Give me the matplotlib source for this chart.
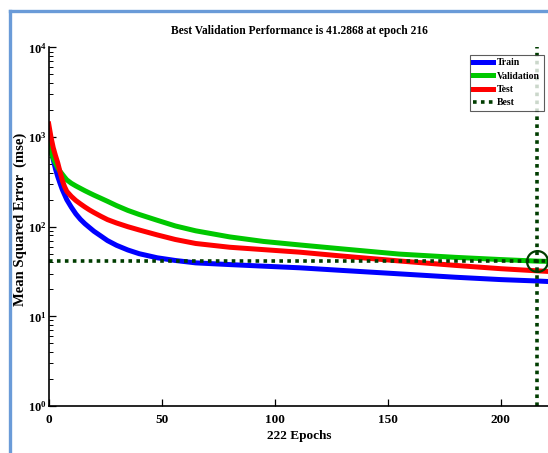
import matplotlib
matplotlib.use("Agg")
import matplotlib.pyplot as plt
from matplotlib.lines import Line2D
from matplotlib.ticker import LogLocator, LogFormatterMathtext, NullFormatter

# values
epochs = [0, 1, 2, 3, 4, 5, 6, 7, 8, 10, 12, 14, 16, 18, 20, 23, 26, 30, 35, 40, 48, 56, 65,
          80, 95, 111, 130, 155, 180, 200, 216, 222]
train_mse = [1000, 720, 560, 440, 362, 305, 260, 228, 200, 165, 139, 121, 108, 98, 89, 79, 70, 62, 55, 50, 45, 42, 39.5,
             37.8, 36.3, 34.8, 32.5, 29.8, 27.3, 25.7, 24.8, 24.4]
val_mse = [850, 680, 580, 510, 453, 415, 385, 357, 333, 305, 285, 268, 252, 238, 225, 208, 192, 172, 152, 137, 118, 102, 90,
           77, 68.5, 62.6, 56.5, 49.5, 45.5, 43, 41.29, 41]
test_mse = [1400, 1000, 760, 620, 515, 410, 330, 280, 248, 218, 196, 180, 166, 154, 144, 131, 120, 110, 100, 92, 81, 72, 65,
            59, 55.5, 52, 47, 41.5, 37, 34, 32.2, 31.6]
best_epoch = 216
best_perf = 41.2868
n_epochs = 222

plt.rcParams['font.family'] = ['Liberation Serif', 'DejaVu Serif']
plt.rcParams['font.weight'] = 'bold'
plt.rcParams['mathtext.fontset'] = 'custom'
plt.rcParams['mathtext.rm'] = 'Liberation Serif:bold'
plt.rcParams['mathtext.bf'] = 'Liberation Serif:bold'
plt.rcParams['mathtext.it'] = 'Liberation Serif:bold'

fig = plt.figure(figsize=(5.48, 4.53), dpi=100)
ax = fig.add_axes([0.0889, 0.1038, 0.9157, 0.7915])

ax.plot(epochs, train_mse, color='#0000ff', lw=3.6, label='Train', solid_joinstyle='round')
ax.plot(epochs, val_mse, color='#00c800', lw=3.6, label='Validation', solid_joinstyle='round')
ax.plot(epochs, test_mse, color='#ff0000', lw=3.6, label='Test', solid_joinstyle='round')
ax.axhline(best_perf, color='#003d00', lw=2.6, ls=(0, (1, 1.2)), label='Best')
ax.axvline(best_epoch, color='#003d00', lw=2.6, ls=(0, (1, 1.2)))
ax.plot([best_epoch], [best_perf], 'o', mfc='none', mec='#003d00', ms=15, mew=1.6)

ax.set_yscale('log')
ax.set_ylim(1, 1e4)
ax.set_xlim(0, n_epochs)
ax.set_xticks([0, 50, 100, 150, 200])
ax.yaxis.set_major_locator(LogLocator(base=10, numticks=10))
ax.yaxis.set_major_formatter(LogFormatterMathtext())
ax.yaxis.set_minor_locator(LogLocator(base=10, subs=range(2, 10), numticks=20))
ax.yaxis.set_minor_formatter(NullFormatter())
ax.tick_params(axis='both', which='both', direction='in')
ax.tick_params(axis='x', labelsize=9.5, pad=6)
ax.tick_params(axis='y', labelsize=9, pad=1.5)
ax.tick_params(axis='both', which='major', length=5, width=0.9)
ax.tick_params(axis='y', which='minor', length=3, width=0.7)
ax.spines['top'].set_visible(False)
ax.spines['right'].set_visible(False)
ax.spines['left'].set_linewidth(1.2)
ax.spines['bottom'].set_linewidth(1.2)

ax.set_title('Best Validation Performance is 41.2868 at epoch 216', fontsize=8.3, fontweight='bold', pad=10)
ax.set_xlabel('222 Epochs', fontsize=9.5, fontweight='bold', labelpad=3)
ax.set_ylabel('Mean Squared Error  (mse)', fontsize=10.5, fontweight='bold')
ax.yaxis.set_label_coords(-0.043, 0.52)

leg = ax.legend(loc='upper left', bbox_to_anchor=(0.8396, 0.979), fontsize=7, frameon=True,
                fancybox=False, handlelength=2.0, handletextpad=0.45, borderpad=0.35,
                labelspacing=0.45, borderaxespad=0)
leg.get_frame().set_edgecolor('#333333')
leg.get_frame().set_linewidth(0.8)

# light blue frame around the figure
fig.add_artist(Line2D([10 / 548, 10 / 548], [0, 1 - 11 / 453], transform=fig.transFigure, color='#6a9bd8', lw=2.4))
fig.add_artist(Line2D([10 / 548, 1], [1 - 11 / 453, 1 - 11 / 453], transform=fig.transFigure, color='#6a9bd8', lw=2.4))

fig.savefig('out.png', dpi=100)
